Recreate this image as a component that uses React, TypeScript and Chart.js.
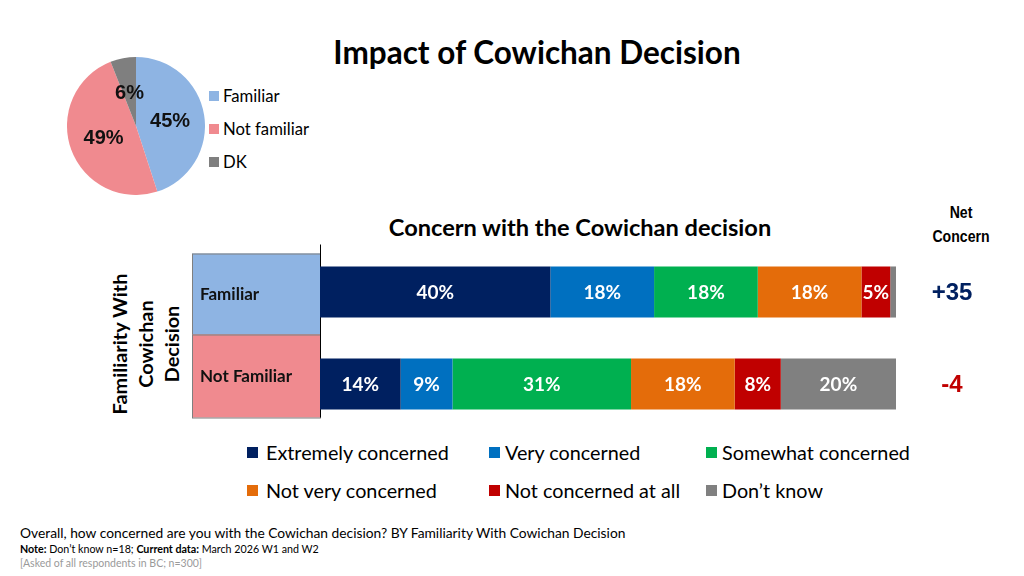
import React, { useEffect, useRef } from "react";
import { Chart, registerables } from "chart.js";
Chart.register(...registerables);

const pieLabels = ["Familiar", "Not familiar", "DK"];
const pieValues = [45, 49, 6];
const pieColors = ["#8EB4E3", "#F08A8F", "#7F7F7F"];

const groups = ["Familiar", "Not Familiar"];
const groupColors = ["#8EB4E3", "#F08A8F"];
const seriesNames = [
  "Extremely concerned",
  "Very concerned",
  "Somewhat concerned",
  "Not very concerned",
  "Not concerned at all",
  "Don’t know",
];
const seriesColors = ["#002060", "#0070C0", "#00B050", "#E46C0A", "#C00000", "#808080"];
const extremely = [40, 14];
const very = [18, 9];
const somewhat = [18, 31];
const notVery = [18, 18];
const notAtAll = [5, 8];
const dontKnow = [1, 20];
const seriesValues = [extremely, very, somewhat, notVery, notAtAll, dontKnow];
const netConcern = ["+35", "-4"];
const netColors = ["#002060", "#C00000"];

const CAL = "Lato, 'Open Sans', sans-serif";
const ARIAL = "'Liberation Sans', Arial, sans-serif";

const pieLabelPlugin = {
  id: "pieLabels",
  afterDatasetsDraw(chart: any) {
    const { ctx } = chart;
    const meta = chart.getDatasetMeta(0);
    ctx.save();
    ctx.font = `bold 20px ${ARIAL}`;
    ctx.fillStyle = "#111";
    ctx.textAlign = "center";
    ctx.textBaseline = "middle";
    meta.data.forEach((arc: any, i: number) => {
      const p = arc.tooltipPosition();
      ctx.fillText(pieValues[i] + "%", p.x, p.y + 1);
    });
    ctx.restore();
  },
};

const barDecorPlugin = {
  id: "barDecor",
  beforeDatasetsDraw(chart: any) {
    const { ctx, chartArea, scales } = chart;
    const y = scales.y;
    const c0 = y.getPixelForValue(0);
    const c1 = y.getPixelForValue(1);
    const left = chartArea.left;
    const boxLeft = left - 128;
    const tops = [c0 - 38.5, (c0 + c1) / 2 - 3.5];
    const bottoms = [(c0 + c1) / 2 - 3.5, c1 + 33.5];
    ctx.save();
    groups.forEach((g, i) => {
      ctx.fillStyle = groupColors[i];
      ctx.fillRect(boxLeft, tops[i], left - boxLeft, bottoms[i] - tops[i]);
      ctx.strokeStyle = "#7F7F7F";
      ctx.lineWidth = 1;
      ctx.strokeRect(boxLeft + 0.5, tops[i] + 0.5, left - boxLeft, bottoms[i] - tops[i]);
      ctx.fillStyle = "#111";
      ctx.font = `bold 17px ${CAL}`;
      ctx.textAlign = "left";
      ctx.textBaseline = "middle";
      ctx.fillText(g, boxLeft + 8, (tops[i] + bottoms[i]) / 2 + 1);
    });
    ctx.strokeStyle = "#000";
    ctx.lineWidth = 1;
    ctx.beginPath();
    ctx.moveTo(left + 0.5, c0 - 47.5);
    ctx.lineTo(left + 0.5, c1 + 33.5);
    ctx.stroke();
    ctx.restore();
  },
  afterDatasetsDraw(chart: any) {
    const { ctx, chartArea, scales } = chart;
    ctx.save();
    ctx.font = `bold 19px ${CAL}`;
    ctx.fillStyle = "#fff";
    ctx.textAlign = "center";
    ctx.textBaseline = "middle";
    chart.data.datasets.forEach((ds: any, di: number) => {
      const meta = chart.getDatasetMeta(di);
      meta.data.forEach((bar: any, i: number) => {
        const v = ds.data[i];
        if (v < 3) return;
        const p = bar.getCenterPoint();
        ctx.fillText(v + "%", p.x, p.y + 1);
      });
    });
    ctx.font = `bold 24px ${ARIAL}`;
    groups.forEach((_, i) => {
      ctx.fillStyle = netColors[i];
      ctx.fillText(netConcern[i], chartArea.right + 56, scales.y.getPixelForValue(i) + 1);
    });
    ctx.restore();
  },
};

export default function App() {
  const pieRef = useRef<HTMLCanvasElement>(null);
  const barRef = useRef<HTMLCanvasElement>(null);

  useEffect(() => {
    const pie = new Chart(pieRef.current!, {
      type: "pie",
      data: {
        labels: pieLabels,
        datasets: [{ data: pieValues, backgroundColor: pieColors, borderWidth: 0 }],
      },
      options: {
        animation: false,
        responsive: false,
        layout: { padding: 0 },
        plugins: { legend: { display: false }, tooltip: { enabled: false } },
      },
      plugins: [pieLabelPlugin],
    });

    const bar = new Chart(barRef.current!, {
      type: "bar",
      data: {
        labels: groups,
        datasets: seriesNames.map((name, i) => ({
          label: name,
          data: seriesValues[i],
          backgroundColor: seriesColors[i],
          borderWidth: 0,
          categoryPercentage: 1,
          barPercentage: 0.555,
        })),
      },
      options: {
        indexAxis: "y",
        animation: false,
        responsive: false,
        layout: { padding: { left: 140, right: 104, top: 6, bottom: 6 } },
        scales: {
          x: { stacked: true, min: 0, max: 100, display: false },
          y: { stacked: true, display: false },
        },
        plugins: { legend: { display: false }, tooltip: { enabled: false } },
      },
      plugins: [barDecorPlugin],
    });

    return () => {
      pie.destroy();
      bar.destroy();
    };
  }, []);

  const legendCols = [
    { sq: 247, tx: 266 },
    { sq: 489, tx: 505 },
    { sq: 706, tx: 722 },
  ];
  const legendRows = [452, 490];

  return (
    <div
      style={{
        position: "absolute",
        left: 0,
        top: 0,
        width: 1024,
        height: 576,
        background: "#fff",
        overflow: "hidden",
        fontFamily: CAL,
        color: "#000",
      }}
    >
      <div
        style={{
          position: "absolute",
          left: 0,
          width: 1074,
          top: 31,
          textAlign: "center",
          fontWeight: 700,
          fontSize: 31.5,
          lineHeight: "42px",
        }}
      >
        Impact of Cowichan Decision
      </div>

      <canvas
        ref={pieRef}
        width={138}
        height={138}
        style={{ position: "absolute", left: 67, top: 57, width: 138, height: 138 }}
      />
      {pieLabels.map((l, i) => (
        <div key={l}>
          <div
            style={{
              position: "absolute",
              left: 209,
              top: 96 + i * 33 - 5,
              width: 10,
              height: 10,
              background: pieColors[i],
            }}
          />
          <div
            style={{
              position: "absolute",
              left: 223,
              top: 96 + i * 33 - 11,
              fontSize: 16.7,
              lineHeight: "22px",
              whiteSpace: "nowrap",
            }}
          >
            {l}
          </div>
        </div>
      ))}

      <div
        style={{
          position: "absolute",
          left: 330,
          width: 500,
          top: 211,
          textAlign: "center",
          fontWeight: 700,
          fontSize: 23.6,
          lineHeight: "32px",
        }}
      >
        Concern with the Cowichan decision
      </div>
      <div
        style={{
          position: "absolute",
          left: 911,
          width: 100,
          top: 201,
          textAlign: "center",
          fontWeight: 700,
          fontSize: 16,
          lineHeight: "24px",
          transform: "scaleX(0.88)",
          fontFamily: ARIAL,
        }}
      >
        Net
        <br />
        Concern
      </div>

      <div
        style={{
          position: "absolute",
          left: 146 - 110,
          top: 344 - 40,
          width: 220,
          height: 80,
          transform: "rotate(-90deg)",
          textAlign: "center",
          fontWeight: 700,
          fontSize: 19.9,
          lineHeight: "26px",
        }}
      >
        Familiarity With
        <br />
        Cowichan
        <br />
        Decision
      </div>

      <canvas
        ref={barRef}
        width={820}
        height={196}
        style={{ position: "absolute", left: 180, top: 240, width: 820, height: 196 }}
      />

      {seriesNames.map((n, i) => {
        const col = legendCols[i % 3];
        const row = legendRows[Math.floor(i / 3)];
        return (
          <div key={n}>
            <div
              style={{
                position: "absolute",
                left: col.sq,
                top: row - 5,
                width: 11,
                height: 11,
                background: seriesColors[i],
              }}
            />
            <div
              style={{
                position: "absolute",
                left: col.tx,
                top: row - 12,
                fontSize: 19.8,
                lineHeight: "24px",
                whiteSpace: "nowrap",
              }}
            >
              {n}
            </div>
          </div>
        );
      })}

      <div style={{ position: "absolute", left: 20, top: 524, fontSize: 13.8, lineHeight: "18px", whiteSpace: "nowrap" }}>
        Overall, how concerned are you with the Cowichan decision? BY Familiarity With Cowichan Decision
      </div>
      <div style={{ position: "absolute", left: 20, top: 542, fontSize: 10.7, lineHeight: "14px", whiteSpace: "nowrap" }}>
        <b>Note:</b> Don’t know n=18; <b>Current data:</b> March 2026 W1 and W2
      </div>
      <div
        style={{
          position: "absolute",
          left: 20,
          top: 556,
          fontSize: 10.5,
          lineHeight: "14px",
          whiteSpace: "nowrap",
          color: "#9A9A9A",
        }}
      >
        [Asked of all respondents in BC; n=300]
      </div>
    </div>
  );
}
